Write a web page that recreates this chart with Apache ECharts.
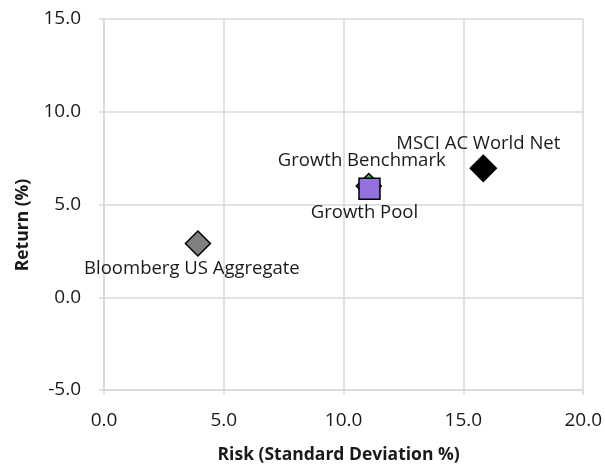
<!DOCTYPE html>
<html><head><meta charset="utf-8">
<script src="https://cdn.jsdelivr.net/npm/echarts@6/dist/echarts.min.js"></script>
<style>html,body{margin:0;padding:0;background:#fff}#c{width:605px;height:469px}</style>
</head><body><div id="c"></div>
<script>
// Data
const names = ["Bloomberg US Aggregate", "Growth Benchmark", "Growth Pool", "MSCI AC World Net"];
const risk = [3.92, 11.05, 11.08, 15.83];
const ret = [2.9, 6.0, 5.85, 6.95];
const xTicks = [0, 5, 10, 15, 20];
const yTicks = [-5, 0, 5, 10, 15];

// Styles (kept separate from data)
const colors = ["#808080", "#3cb371", "#9370db", "#000000"];
const symbols = ["diamond", "diamond", "rect", "diamond"];
const sizes = [25, 25, 21, 26];
const labelOffsets = [[-6, 25], [-7, -25], [-5, 24], [-5, -25]];

const FONT = "Open Sans";
const series = names.map((n, i) => ({
  type: "scatter",
  name: n,
  symbol: symbols[i],
  symbolSize: sizes[i],
  itemStyle: { color: colors[i], borderColor: "#000", borderWidth: 1.5, opacity: 1 },
  label: {
    show: true, formatter: n, position: "inside", offset: labelOffsets[i],
    color: "#1a1a1a", fontFamily: FONT, fontSize: 18.5
  },
  emphasis: { disabled: true },
  data: [[risk[i], ret[i]]],
  z: 2 + i
}));

const chart = echarts.init(document.getElementById("c"), null, { renderer: "canvas" });
const gridColor = "#d9d9d9";
chart.setOption({
  animation: false,
  grid: { left: 104, right: 21, top: 19, bottom: 78, containLabel: false },
  xAxis: {
    type: "value", min: xTicks[0], max: xTicks[xTicks.length - 1], interval: 5,
    axisLine: { show: true, onZero: false, lineStyle: { color: gridColor, width: 1.5 } },
    axisTick: { show: true, length: 5, lineStyle: { color: gridColor, width: 1.5 } },
    splitLine: { show: true, lineStyle: { color: gridColor, width: 1.5 } },
    axisLabel: { margin: 21, color: "#1a1a1a", fontFamily: FONT, fontSize: 19, formatter: v => v.toFixed(1) },
    name: "Risk (Standard Deviation %)", nameLocation: "middle", nameGap: 56,
    nameTextStyle: { color: "#1a1a1a", fontFamily: FONT, fontSize: 17.5, fontWeight: "bold", padding: [0, 10, 0, 0] }
  },
  yAxis: {
    type: "value", min: yTicks[0], max: yTicks[yTicks.length - 1], interval: 5,
    axisLine: { show: true, onZero: false, lineStyle: { color: gridColor, width: 1.5 } },
    axisTick: { show: true, length: 5, lineStyle: { color: gridColor, width: 1.5 } },
    splitLine: { show: true, lineStyle: { color: gridColor, width: 1.5 } },
    axisLabel: { margin: 23, color: "#1a1a1a", fontFamily: FONT, fontSize: 19, formatter: v => v.toFixed(1) }
  },
  graphic: [{
    type: "text", x: 23, y: 225, rotation: Math.PI / 2,
    style: { text: "Return (%)", fill: "#1a1a1a", font: "bold 17.5px 'Open Sans'", textAlign: "center", textVerticalAlign: "middle" }
  }],
  series: series
});
</script></body></html>
